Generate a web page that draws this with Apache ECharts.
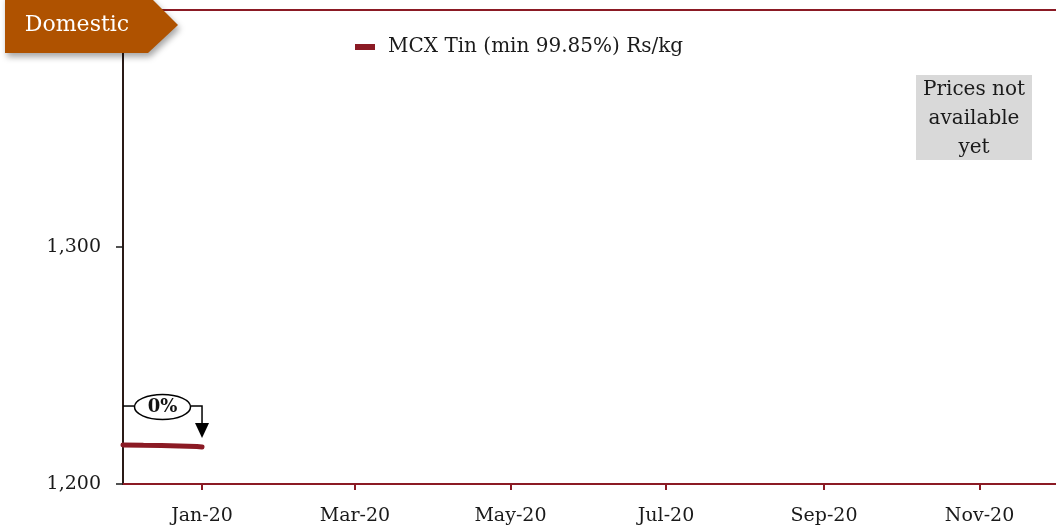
<!DOCTYPE html>
<html lang="en">
<head>
    <meta charset="utf-8" />
    <title>MCX Tin</title>
    <script src="https://cdn.jsdelivr.net/npm/echarts@6/dist/echarts.min.js"></script>
    <style>
        html, body { margin: 0; height: 100%; background: #FFFFFF; }
        #chart { width: 1056px; height: 527px; }
    </style>
</head>
<body>
<div id="chart"></div>
<script>
// data
var dates = ['2019-12-01', '2019-12-09', '2019-12-16', '2019-12-23', '2019-12-30', '2020-01-01'];
var tinPrices = [1216.5, 1216.3, 1216.2, 1216.0, 1215.8, 1215.6];
var tickDates = ['2020-01-01', '2020-03-01', '2020-05-01', '2020-07-01', '2020-09-01', '2020-11-01'];
var xRange = ['2019-12-01', '2020-12-01'];
var yRange = [1200, 1400];
var yStep = 100;
var monthNames = ['Jan', 'Feb', 'Mar', 'Apr', 'May', 'Jun', 'Jul', 'Aug', 'Sep', 'Oct', 'Nov', 'Dec'];
var seriesName = 'MCX Tin (min 99.85%) Rs/kg';
var badgeText = 'Domestic';
var noteText = 'Prices not\navailable\nyet';

var FONT = 'DejaVu Serif';
var DARK_RED = '#8B1A24';

function ts(d) { return echarts.time.parse(d).getTime(); }

var chart = echarts.init(document.getElementById('chart'));
var tickValues = tickDates.map(ts);
var xMin = ts(xRange[0]), xMax = ts(xRange[1]);

chart.setOption({
    animation: false,
    grid: { left: 123, right: -6, top: 10, bottom: 43 },
    legend: {
        left: 350, top: 32,
        icon: 'rect', itemWidth: 20, itemHeight: 6, itemGap: 18,
        textStyle: { fontFamily: FONT, fontSize: 20, color: '#1a1a1a', padding: [0, 0, 0, 8] },
        data: [seriesName]
    },
    xAxis: [{
        type: 'value',
        min: xMin, max: xMax,
        axisLine: { lineStyle: { color: DARK_RED, width: 2 } },
        axisTick: { show: true, length: 6, lineStyle: { color: DARK_RED, width: 2 }, customValues: tickValues },
        axisLabel: {
            customValues: tickValues,
            margin: 23,
            fontFamily: FONT, fontSize: 19, color: '#1a1a1a',
            formatter: function (v) {
                var d = new Date(v);
                return monthNames[d.getMonth()] + '-' + String(d.getFullYear()).slice(2);
            }
        },
        splitLine: { show: false }
    }, {
        // top frame line
        type: 'value', position: 'top',
        min: xMin, max: xMax,
        axisLine: { lineStyle: { color: DARK_RED, width: 2 } },
        axisTick: { show: false }, axisLabel: { show: false }, splitLine: { show: false }
    }],
    yAxis: {
        type: 'value',
        min: yRange[0], max: yRange[1], interval: yStep,
        axisLine: { show: true, lineStyle: { color: '#2a1a16', width: 2 } },
        axisTick: { show: true, length: 7, lineStyle: { color: '#1a1a1a', width: 1.5 } },
        axisLabel: {
            margin: 22, showMaxLabel: false,
            fontFamily: FONT, fontSize: 19, color: '#1a1a1a',
            formatter: function (v) { return v.toLocaleString('en-US'); }
        },
        splitLine: { show: false }
    },
    series: [{
        name: seriesName,
        type: 'line',
        xAxisIndex: 0,
        showSymbol: false,
        color: DARK_RED,
        lineStyle: { width: 5, color: DARK_RED, cap: 'round' },
        data: dates.map(function (d, i) { return [ts(d), tinPrices[i]]; })
    }]
});

// annotation anchored to the series
var n = tinPrices.length;
var end = chart.convertToPixel({ seriesIndex: 0 }, [ts(dates[n - 1]), tinPrices[n - 1]]);
var axisX = chart.convertToPixel({ xAxisIndex: 0 }, xMin);
var change = Math.round((tinPrices[n - 1] - tinPrices[0]) / tinPrices[0] * 100);
var lineY = end[1] - 41;
var tipY = end[1] - 9;
var cx = (axisX + end[0]) / 2;
var rx = 28, ry = 12.5;

chart.setOption({
    graphic: [{
        type: 'polygon', z: 100,
        shape: { points: [[5, -5], [148, -5], [178, 25], [148, 53], [5, 53]] },
        style: { fill: '#AF5200', shadowBlur: 6, shadowOffsetX: 2, shadowOffsetY: 4, shadowColor: 'rgba(0,0,0,0.35)' }
    }, {
        type: 'text', z: 101, x: 77, y: 25,
        style: { text: badgeText, fill: '#fff', font: '22px "' + FONT + '"', align: 'center', verticalAlign: 'middle' }
    }, {
        type: 'rect', z: 100, right: 24, top: 75,
        shape: { width: 116, height: 85 },
        style: { fill: '#D9D9D9' }
    }, {
        type: 'text', z: 101, x: 974, y: 119,
        style: { text: noteText, fill: '#1a1a1a', font: '20px "' + FONT + '"', align: 'center', verticalAlign: 'middle', lineHeight: 29 }
    }, {
        type: 'polyline', z: 100,
        shape: { points: [[axisX, lineY], [cx - rx, lineY]] },
        style: { stroke: '#000', lineWidth: 1.5, fill: null }
    }, {
        type: 'polyline', z: 100,
        shape: { points: [[cx + rx, lineY], [end[0], lineY], [end[0], tipY - 14]] },
        style: { stroke: '#000', lineWidth: 1.5, fill: null }
    }, {
        type: 'polygon', z: 100,
        shape: { points: [[end[0] - 7, tipY - 15], [end[0] + 7, tipY - 15], [end[0], tipY]] },
        style: { fill: '#000' }
    }, {
        type: 'ellipse', z: 100,
        shape: { cx: cx, cy: lineY + 1, rx: rx, ry: ry },
        style: { fill: '#fff', stroke: '#000', lineWidth: 1.5 }
    }, {
        type: 'text', z: 101, x: cx, y: lineY + 1,
        style: { text: change + '%', fill: '#111', font: 'bold 18px "' + FONT + '"', align: 'center', verticalAlign: 'middle' }
    }]
});
</script>
</body>
</html>
